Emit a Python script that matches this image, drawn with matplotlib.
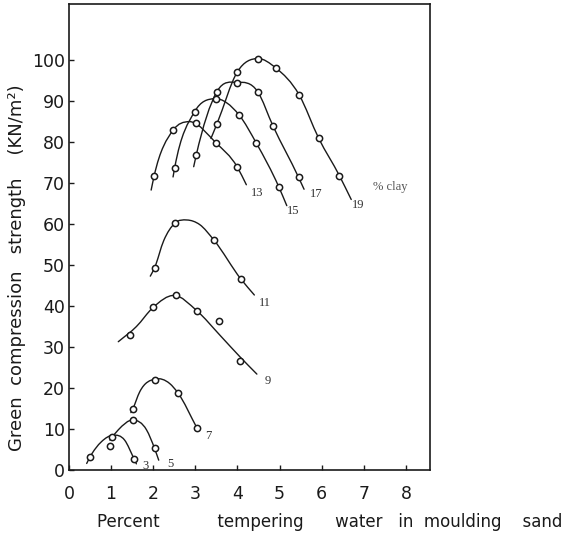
import numpy as np
import matplotlib
matplotlib.use("Agg")
import matplotlib.pyplot as plt
from matplotlib.path import Path
from matplotlib.patches import PathPatch

# ---------------- data ----------------
x_ticks = [0, 1, 2, 3, 4, 5, 6, 7, 8]
y_ticks = [0, 10, 20, 30, 40, 50, 60, 70, 80, 90, 100]

clay_labels = ["3", "5", "7", "9", "11", "13", "15", "17", "19"]

# measured points (open circles)
c3_x = [0.50, 1.02, 1.54]
c3_y = [3.2, 8.1, 2.8]
c5_x = [0.97, 1.52, 2.03]
c5_y = [5.9, 12.2, 5.3]
c7_x = [1.51, 2.03, 2.58, 3.04]
c7_y = [14.8, 22.0, 18.9, 10.2]
c9_x = [1.44, 1.99, 2.55, 3.03, 3.55, 4.06]
c9_y = [32.9, 39.8, 42.7, 38.9, 36.4, 26.7]
c11_x = [2.03, 2.51, 3.44, 4.08]
c11_y = [49.3, 60.2, 56.1, 46.6]
c13_x = [2.02, 2.47, 3.02, 3.49, 3.99]
c13_y = [71.7, 82.9, 84.7, 79.8, 74.0]
c15_x = [2.51, 2.98, 3.49, 4.04, 4.45, 4.98]
c15_y = [73.8, 87.4, 90.4, 86.6, 79.7, 69.1]
c17_x = [3.02, 3.51, 3.99, 4.48, 4.84, 5.45]
c17_y = [76.8, 92.3, 94.5, 92.3, 84.0, 71.4]
c19_x = [3.51, 4.00, 4.48, 4.91, 5.46, 5.93, 6.42]
c19_y = [84.4, 97.2, 100.4, 98.1, 91.6, 80.9, 71.8]

# hand-drawn fitted curves
c3_line_x = [0.42, 0.50, 0.77, 1.05, 1.32, 1.54, 1.60]
c3_line_y = [1.6, 3.2, 6.9, 8.5, 7.3, 2.8, 1.5]
c5_line_x = [0.97, 1.17, 1.52, 1.84, 2.03, 2.13]
c5_line_y = [7.3, 9.8, 12.2, 9.8, 5.3, 2.4]
c7_line_x = [1.47, 1.51, 1.68, 2.05, 2.39, 2.58, 3.04]
c7_line_y = [14.0, 14.8, 19.1, 22.2, 21.1, 18.9, 10.2]
c9_line_x = [1.17, 1.60, 1.99, 2.50, 3.03, 3.60, 4.06, 4.46]
c9_line_y = [31.3, 35.0, 39.6, 42.6, 38.9, 32.7, 27.6, 23.4]
c11_line_x = [1.93, 2.03, 2.25, 2.51, 2.80, 3.10, 3.44, 4.08, 4.40]
c11_line_y = [47.3, 49.3, 56.0, 60.2, 61.0, 59.9, 56.1, 46.6, 42.7]
c13_line_x = [1.95, 2.02, 2.47, 2.85, 3.49, 3.99, 4.21]
c13_line_y = [68.3, 71.7, 82.9, 85.0, 79.8, 74.0, 69.6]
c15_line_x = [2.47, 2.51, 2.98, 3.45, 4.04, 4.45, 4.98, 5.17]
c15_line_y = [71.5, 73.8, 87.4, 90.6, 86.6, 79.7, 69.1, 64.5]
c17_line_x = [2.96, 3.02, 3.51, 3.99, 4.48, 4.84, 5.45, 5.58]
c17_line_y = [74.0, 76.8, 92.3, 94.6, 92.3, 84.0, 71.4, 68.5]
c19_line_x = [3.37, 3.51, 4.00, 4.48, 4.91, 5.46, 5.93, 6.42, 6.70]
c19_line_y = [80.9, 84.4, 97.2, 100.4, 98.1, 91.6, 80.9, 71.8, 66.0]

# ---------------- drawing ----------------
INK = "#1a1a1a"


def smooth_path(xs, ys):
    """Cubic Hermite (in x) through the read points, as a Bezier path."""
    x = np.asarray(xs, float)
    y = np.asarray(ys, float)
    h = np.diff(x)
    d = np.diff(y) / h
    m = np.empty_like(y)
    m[0] = d[0]
    m[-1] = d[-1]
    for i in range(1, len(x) - 1):
        m[i] = (h[i - 1] * d[i] + h[i] * d[i - 1]) / (h[i - 1] + h[i])
    verts = [(x[0], y[0])]
    codes = [Path.MOVETO]
    for i in range(len(x) - 1):
        verts += [(x[i] + h[i] / 3, y[i] + m[i] * h[i] / 3),
                  (x[i + 1] - h[i] / 3, y[i + 1] - m[i + 1] * h[i] / 3),
                  (x[i + 1], y[i + 1])]
        codes += [Path.CURVE4] * 3
    return Path(verts, codes)


fig = plt.figure(figsize=(5.73, 5.35), dpi=100)
ax = fig.add_axes([69 / 573, 65 / 535, 361 / 573, 466 / 535])
ax.set_xlim(0, 8.57)
ax.set_ylim(0, 113.7)

curves = [
    (c3_x, c3_y, c3_line_x, c3_line_y),
    (c5_x, c5_y, c5_line_x, c5_line_y),
    (c7_x, c7_y, c7_line_x, c7_line_y),
    (c9_x, c9_y, c9_line_x, c9_line_y),
    (c11_x, c11_y, c11_line_x, c11_line_y),
    (c13_x, c13_y, c13_line_x, c13_line_y),
    (c15_x, c15_y, c15_line_x, c15_line_y),
    (c17_x, c17_y, c17_line_x, c17_line_y),
    (c19_x, c19_y, c19_line_x, c19_line_y),
]

for mx, my, lx, ly in curves:
    ax.add_patch(PathPatch(smooth_path(lx, ly), fill=False, lw=1.0,
                           ec=INK, zorder=2, capstyle="round"))
    ax.plot(mx, my, ls="none", marker="o", ms=4.5, mfc="white",
            mec=INK, mew=1.1, zorder=3)

# curve labels (% clay)
label_pos = [(1.81, 0.9), (2.40, 1.4), (3.31, 8.4), (4.73, 21.8), (4.66, 40.8),
             (4.46, 67.7), (5.32, 63.2), (5.88, 67.3), (6.87, 64.6)]
for txt, (lx, ly) in zip(clay_labels, label_pos):
    ax.text(lx, ly, txt, ha="center", va="center", fontsize=9,
            family=["Liberation Serif", "DejaVu Serif"], color="#333333")
ax.text(7.22, 69.0, "% clay", ha="left", va="center", fontsize=9,
        family=["Liberation Serif", "DejaVu Serif"], color="#555555")

# axes styling
for sp in ax.spines.values():
    sp.set_linewidth(1.2)
    sp.set_color(INK)
ax.set_xticks(x_ticks)
ax.set_yticks(y_ticks)
ax.set_xticklabels([str(v) for v in x_ticks])
ax.set_yticklabels([str(v) for v in y_ticks])
ax.tick_params(axis="both", direction="in", length=3.5, width=1.0,
               colors=INK, labelsize=12.5)
ax.tick_params(axis="x", pad=10.5)
ax.tick_params(axis="y", pad=3)

fig.text(17 / 573, 1 - 267.5 / 535,
         "Green  compression   strength    (KN/m\u00b2)",
         rotation=90, ha="center", va="center", fontsize=13, color=INK)
fig.text(97 / 573, 1 - 527 / 535,
         "Percent" + " " * 11 + "tempering" + " " * 6 + "water" + " " * 3
         + "in" + " " * 2 + "moulding" + " " * 4 + "sand",
         ha="left", va="baseline", fontsize=12, color=INK)

fig.savefig("out.png", dpi=100)
